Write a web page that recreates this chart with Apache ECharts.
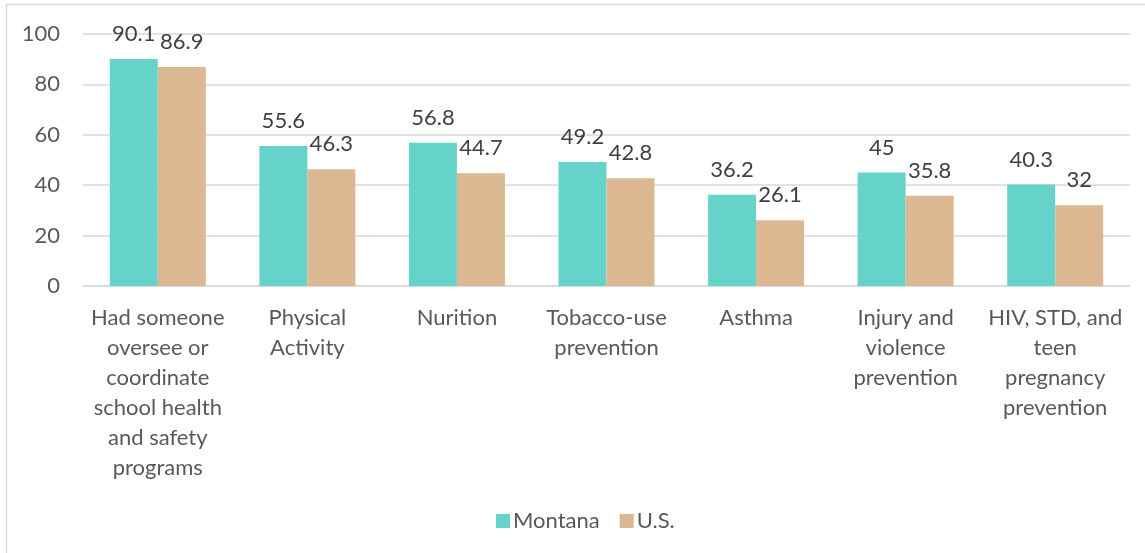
<!DOCTYPE html>
<html>
<head>
<meta charset="utf-8">
<script src="https://cdn.jsdelivr.net/npm/echarts@6/dist/echarts.min.js"></script>
<style>html,body{margin:0;padding:0;background:#fff;}#c{width:1145px;height:553px;}</style>
</head>
<body>
<div id="c"></div>
<script>
const categories = [
  "Had someone\noversee or\ncoordinate\nschool health\nand safety\nprograms",
  "Physical\nActivity",
  "Nurition",
  "Tobacco-use\nprevention",
  "Asthma",
  "Injury and\nviolence\nprevention",
  "HIV, STD, and\nteen\npregnancy\nprevention"
];
const montana = [90.1, 55.6, 56.8, 49.2, 36.2, 45, 40.3];
const us = [86.9, 46.3, 44.7, 42.8, 26.1, 35.8, 32];
const seriesNames = ["Montana", "U.S."];
const yTicks = [0, 20, 40, 60, 80, 100];

const font = "Lato, 'Open Sans', sans-serif";
const chart = echarts.init(document.getElementById('c'), null, {renderer: 'canvas'});
chart.setOption({
  animation: false,
  textStyle: {fontFamily: font},
  graphic: [{
    type: 'rect', silent: true, z: -10,
    shape: {x: 6.5, y: 4.5, width: 1160, height: 600},
    style: {fill: 'none', stroke: '#d9d9d9', lineWidth: 1.5}
  }],
  grid: {left: 83, right: 15, top: 34, bottom: 267},
  legend: {
    left: 491, top: 505,
    itemWidth: 14, itemHeight: 14, itemGap: 20,
    icon: 'rect',
    textStyle: {fontSize: 22, color: '#595959', fontFamily: font, padding: [0,0,0,-2]},
    data: seriesNames
  },
  xAxis: {
    type: 'category',
    data: categories,
    axisTick: {show: false},
    axisLine: {lineStyle: {color: '#d9d9d9', width: 1.5}},
    axisLabel: {fontSize: 22, color: '#595959', lineHeight: 30, margin: 17, interval: 0, fontFamily: font}
  },
  yAxis: {
    type: 'value', min: yTicks[0], max: yTicks[yTicks.length-1], interval: 20,
    axisLine: {show: false}, axisTick: {show: false},
    splitLine: {lineStyle: {color: '#d9d9d9', width: 1.5}},
    axisLabel: {fontSize: 22, color: '#595959', margin: 23, fontFamily: font}
  },
  series: [
    {
      name: seriesNames[0], type: 'bar', data: montana,
      barWidth: 48, barGap: '0%',
      itemStyle: {color: '#66D3CA'},
      label: {show: true, position: 'top', distance: 14, fontSize: 22, color: '#404040', fontFamily: font}
    },
    {
      name: seriesNames[1], type: 'bar', data: us,
      barWidth: 48, barGap: '0%',
      itemStyle: {color: '#DBB792'},
      label: {show: true, position: 'top', distance: 14, fontSize: 22, color: '#404040', fontFamily: font}
    }
  ]
});
</script>
</body>
</html>
